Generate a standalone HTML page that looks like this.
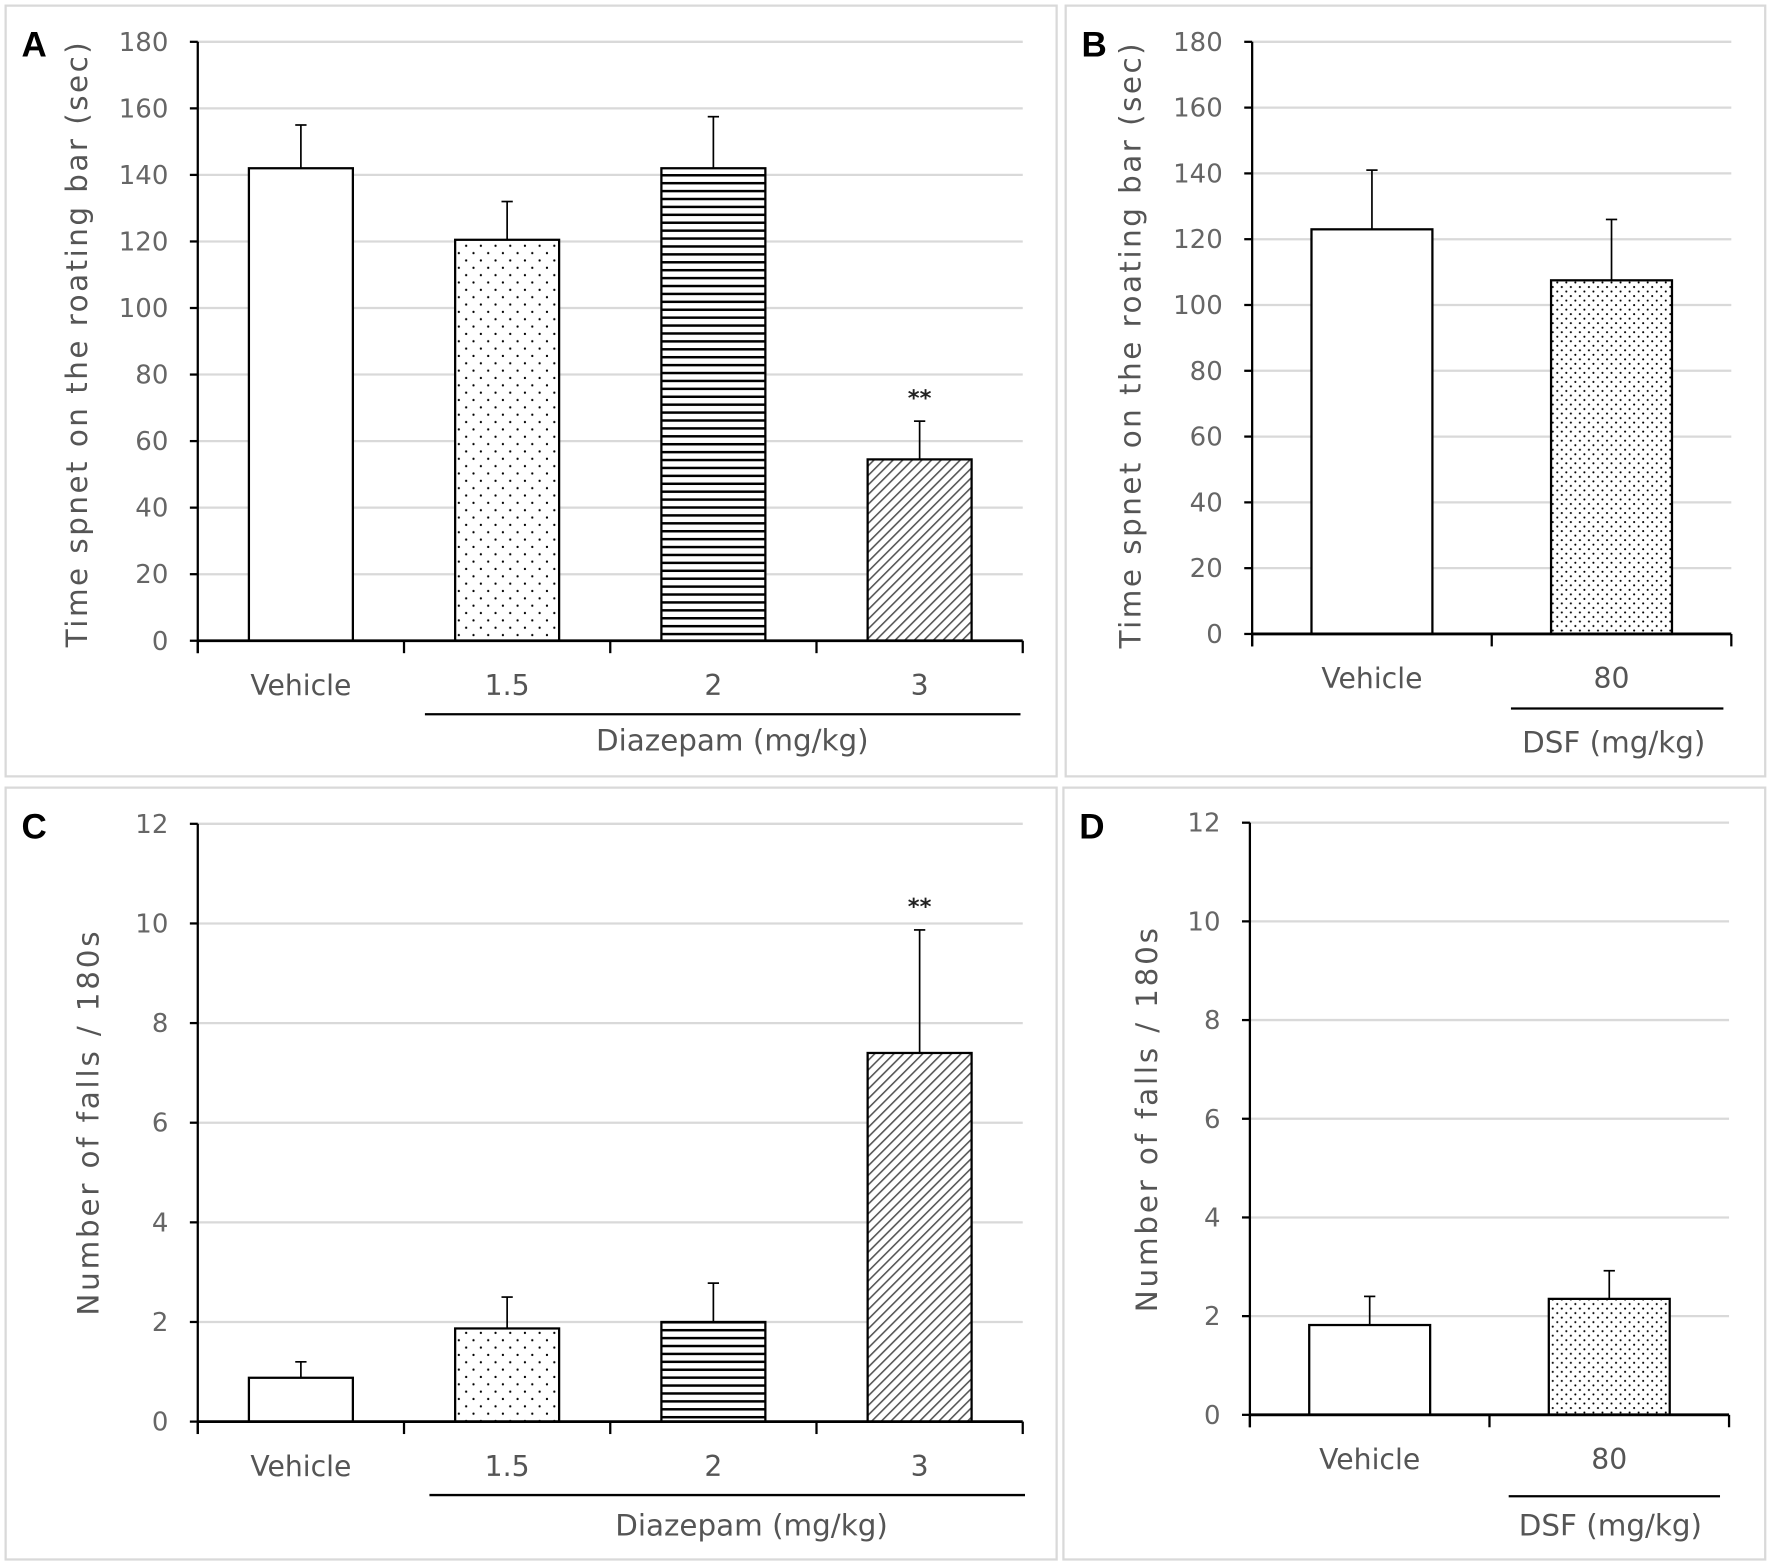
<!DOCTYPE html>
<html><head><meta charset="utf-8"><style>
html,body{margin:0;padding:0;background:#fff;}
svg{display:block;}
text{font-family:"DejaVu Sans","Liberation Sans",sans-serif;fill:#555;}
</style></head><body>
<svg id="fig" width="1772" height="1564" viewBox="0 0 1568 1384" preserveAspectRatio="none" xmlns="http://www.w3.org/2000/svg">
<defs>
<pattern id="dots" width="13" height="13" patternUnits="userSpaceOnUse"><rect width="13" height="13" fill="#fff"/><circle cx="3" cy="3" r="1" fill="#000"/><circle cx="9.5" cy="9.5" r="1" fill="#000"/></pattern>
<pattern id="dots2" width="8" height="8" patternUnits="userSpaceOnUse"><rect width="8" height="8" fill="#fff"/><circle cx="2" cy="2" r="0.9" fill="#000"/><circle cx="6" cy="6" r="0.9" fill="#000"/></pattern>
<pattern id="hlines" width="6" height="7" patternUnits="userSpaceOnUse"><rect width="6" height="7" fill="#fff"/><rect y="0" width="6" height="2.2" fill="#000"/></pattern>
<pattern id="diag" width="6" height="6" patternUnits="userSpaceOnUse" patternTransform="rotate(45)"><rect width="6" height="6" fill="#fff"/><rect width="1.4" height="6" fill="#555"/></pattern>
</defs>
</svg>
<script>
const catsA = ["Vehicle","1.5","2","3"];
const valsA = [142,120.5,142,54.5];
const errA = [155,132,157.5,66];
const sigA = ["","","","**"];
const catsB = ["Vehicle","80"];
const valsB = [123,107.5];
const errB = [141,126];
const catsC = ["Vehicle","1.5","2","3"];
const valsC = [0.88,1.87,2.0,7.4];
const errC = [1.2,2.5,2.78,9.87];
const sigC = ["","","","**"];
const catsD = ["Vehicle","80"];
const valsD = [1.82,2.35];
const errD = [2.4,2.92];
const ticksTime = [0,20,40,60,80,100,120,140,160,180];
const ticksFalls = [0,2,4,6,8,10,12];
const fillsDiaz = ["#fff","url(#dots)","url(#hlines)","url(#diag)"];
const fillsDsf = ["#fff","url(#dots2)"];

const svg=document.getElementById('fig');
const NS='http://www.w3.org/2000/svg';
function mk(tag,attrs,parent){const e=document.createElementNS(NS,tag);for(const k in attrs)e.setAttribute(k,attrs[k]);(parent||svg).appendChild(e);return e;}

function panel(cfg){
  const g=mk('g',{});
  
  
  const fr=mk('rect',{x:cfg.box[0],y:cfg.box[1],width:cfg.box[2],height:cfg.box[3],fill:'none',stroke:'#d9d9d9','stroke-width':2},g);
  
  
  const lt=mk('text',{x:cfg.box[0]+14,y:cfg.box[1]+45,'font-size':31,'font-weight':'bold',style:'fill:#000;font-family:"Liberation Sans",sans-serif'},g);
  lt.textContent=cfg.letter;
  
  
  const ymax=cfg.ticks[cfg.ticks.length-1];
  const y=v=>cfg.y0-(v/ymax)*(cfg.y0-cfg.ytop);
  const n=cfg.cats.length;
  const bw=(cfg.xr-cfg.x0)/n;
  const xc=i=>cfg.x0+bw*(i+0.5);
  cfg.ticks.forEach(t=>{
    if(t>0){const gl=mk('line',{x1:cfg.x0,x2:cfg.xr,y1:y(t),y2:y(t),stroke:'#d9d9d9','stroke-width':2},g);
      
      }
    mk('line',{x1:cfg.x0-7,x2:cfg.x0,y1:y(t),y2:y(t),stroke:'#000','stroke-width':2},g);
    const tl=mk('text',{x:cfg.x0-26,y:y(t)+8,'font-size':23,'text-anchor':'end',style:'fill:#666'},g);
    tl.textContent=t;
    
    
  });
  cfg.cats.forEach((c,i)=>{
    const w=cfg.barw;
    const b=mk('rect',{x:xc(i)-w/2,y:y(cfg.vals[i]),width:w,height:cfg.y0-y(cfg.vals[i]),fill:cfg.fills[i],stroke:'#000','stroke-width':2},g);
    
    
    const el=mk('line',{x1:xc(i),x2:xc(i),y1:y(cfg.vals[i]),y2:y(cfg.err[i]),stroke:'#000','stroke-width':1.5},g);
    
    
    mk('line',{x1:xc(i)-5,x2:xc(i)+5,y1:y(cfg.err[i]),y2:y(cfg.err[i]),stroke:'#000','stroke-width':1.5},g);
    if(cfg.sig && cfg.sig[i]){
      const s=mk('text',{x:xc(i),y:y(cfg.err[i])-cfg.sigGap,'font-size':20,'font-weight':'bold','text-anchor':'middle',style:'fill:#222'},g);
      s.textContent=cfg.sig[i];
      
      
    }
    const xl=mk('text',{x:xc(i),y:cfg.y0+48,'font-size':25,'text-anchor':'middle'},g);
    xl.textContent=c;
    
    
  });
  const ya=mk('line',{x1:cfg.x0,x2:cfg.x0,y1:cfg.ytop,y2:cfg.y0+11,stroke:'#000','stroke-width':2},g);
  
  
  const xa=mk('line',{x1:cfg.x0,x2:cfg.xr,y1:cfg.y0,y2:cfg.y0,stroke:'#000','stroke-width':2.5},g);
  
  
  for(let i=0;i<=n;i++) mk('line',{x1:cfg.x0+bw*i,x2:cfg.x0+bw*i,y1:cfg.y0,y2:cfg.y0+11,stroke:'#000','stroke-width':2},g);
  const ul=mk('line',{x1:cfg.ul[0],x2:cfg.ul[1],y1:cfg.ul[2],y2:cfg.ul[2],stroke:'#000','stroke-width':2},g);
  
  
  const gt=mk('text',{x:cfg.gl[0],y:cfg.gl[1],'font-size':26,'text-anchor':'middle'},g);
  gt.textContent=cfg.group;
  
  
  const yt=mk('text',{x:0,y:0,'font-size':26,'letter-spacing':cfg.ls,'text-anchor':'middle',transform:`translate(${cfg.yl[0]},${cfg.yl[1]}) rotate(-90)`},g);
  yt.textContent=cfg.ylabel;
  
  
}

panel({letter:'A',box:[5,5,930,682],x0:175,xr:905,y0:567,ytop:37,ticks:ticksTime,cats:catsA,vals:valsA,err:errA,sig:sigA,sigGap:14,fills:fillsDiaz,barw:92,
  ul:[376,903,632],gl:[648,664],group:'Diazepam (mg/kg)',yl:[77,304],ls:2.2,ylabel:'Time spnet on the roating bar (sec)'});
panel({letter:'B',box:[943,5,619,682],x0:1108,xr:1532,y0:561,ytop:37,ticks:ticksTime,cats:catsB,vals:valsB,err:errB,fills:fillsDsf,barw:107,
  ul:[1337,1525,627],gl:[1428,666],group:'DSF (mg/kg)',yl:[1009,305],ls:2.2,ylabel:'Time spnet on the roating bar (sec)'});
panel({letter:'C',box:[5,697,930,683],x0:175,xr:905,y0:1258,ytop:729,ticks:ticksFalls,cats:catsC,vals:valsC,err:errC,sig:sigC,sigGap:14,fills:fillsDiaz,barw:92,
  ul:[380,907,1323],gl:[665,1359],group:'Diazepam (mg/kg)',yl:[87,993],ls:2.5,ylabel:'Number of falls / 180s'});
panel({letter:'D',box:[941,697,621,683],x0:1106,xr:1530,y0:1252,ytop:728,ticks:ticksFalls,cats:catsD,vals:valsD,err:errD,fills:fillsDsf,barw:107,
  ul:[1335,1522,1324],gl:[1425,1359],group:'DSF (mg/kg)',yl:[1024,990],ls:2.5,ylabel:'Number of falls / 180s'});
</script>
</body></html>
